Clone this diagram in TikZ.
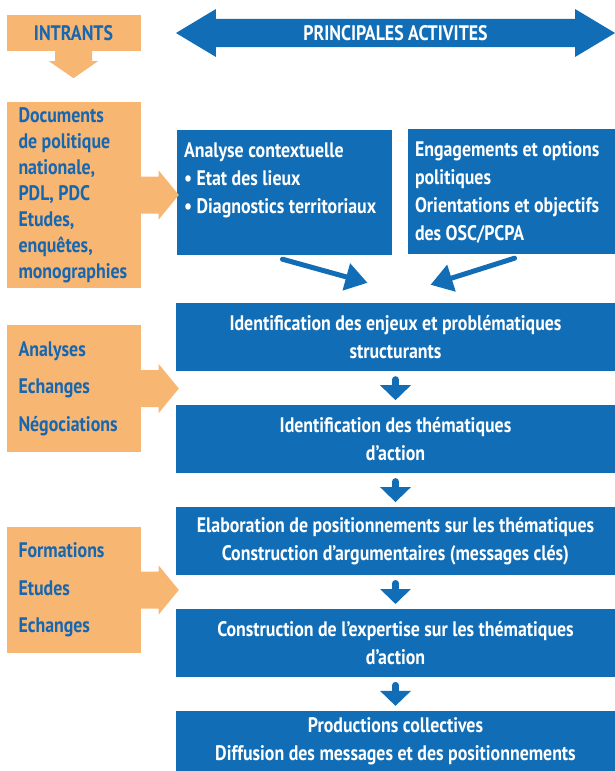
\documentclass[tikz,border=0pt]{standalone}
\usepackage{fontspec}
\setmainfont{PT Sans}[FakeStretch=0.85]
\usepackage{tikz}
\usetikzlibrary{shapes.arrows, arrows.meta, positioning, calc}
\definecolor{actblue}{RGB}{17,109,181}
\definecolor{inorange}{RGB}{248,182,115}
\definecolor{intext}{RGB}{22,102,176}
\frenchspacing
\tikzset{
    inbox/.style={rectangle, fill=inorange, text=intext, align=flush left, text width=110pt,
                  inner xsep=12pt, inner ysep=0pt, minimum width=134pt,
                  font=\bfseries\fontsize{21}{26}\selectfont},
    actbox/.style={rectangle, fill=actblue, text=white, align=center, inner sep=0pt,
                   minimum width=439pt, minimum height=68pt,
                   font=\bfseries\fontsize{21}{28}\selectfont},
    topbox/.style={rectangle, fill=actblue, text=white, inner xsep=7pt, inner ysep=7.5pt,
                   font=\bfseries\fontsize{21}{28}\selectfont},
    downarrow/.style={actblue, line width=7pt, line cap=round, shorten <=8.5pt, shorten >=4.5pt,
                      -{Triangle[width=30pt,length=15pt]}},
    diagarrow/.style={actblue, line width=5pt, line cap=round,
                      -{Triangle[width=27pt,length=22pt]}}
}

\begin{document}
\begin{tikzpicture}[x=1pt, y=1pt, node distance=33.5pt]
    \useasboundingbox (0,0) rectangle (615,-771);

    % Headers
    \node[inbox, align=center, minimum height=36pt] (intrants) at (73.5,-33) {INTRANTS};
    \node[double arrow, fill=actblue, text=white, inner sep=0pt,
          minimum height=439pt, minimum width=48pt,
          double arrow head extend=5.5pt, double arrow tip angle=62,
          font=\bfseries\fontsize{21}{26}\selectfont] (activites) at (395.5,-33) {PRINCIPALES ACTIVITES};

    % Intrants
    \node[inbox, minimum height=186pt] (docs) at (73.5,-195)
        {Documents\\de politique\\nationale,\\PDL, PDC\\Etudes,\\enquêtes,\\monographies};
    \node[inbox, minimum height=127pt, font=\bfseries\fontsize{21}{37.5}\selectfont] (analyses) at (73.5,-388.5)
        {Analyses\\Echanges\\Négociations};
    \node[inbox, minimum height=126pt, font=\bfseries\fontsize{21}{37.5}\selectfont] (formations) at (73.5,-590)
        {Formations\\Etudes\\Echanges};

    % Top activity boxes
    \node[topbox] (analyse) at (284.5,-192.5)
        {\parbox[c][110pt][t]{201pt}{\raggedright\strut Analyse contextuelle\\• Etat des lieux\\• Diagnostics territoriaux}};
    \node[topbox] (engage) at (511.5,-191.5)
        {\parbox[c][110pt][t]{193pt}{\raggedright\strut Engagements et options\\politiques\\Orientations et objectifs\\des OSC/PCPA}};

    % Activity chain
    \node[actbox] (enjeux) at (395.5,-337) {Identification des enjeux et problématiques\\structurants};
    \node[actbox, below=of enjeux] (thema) {Identification des thématiques\\d’action};
    \node[actbox, below=of thema] (elabo) {Elaboration de positionnements sur les thématiques\\Construction d’argumentaires (messages clés)};
    \node[actbox, below=of elabo] (expert) {Construction de l’expertise sur les thématiques\\d’action};
    \node[actbox, below=of expert, minimum height=62pt] (prod) {Productions collectives\\Diffusion des messages et des positionnements};

    % Orange arrows
    \fill[inorange] ($(intrants.south)+(-18.5,0)$) -- ++(0,-10) -- ++(-6,0) -- ++(24.5,-17)
        -- ++(24.5,17) -- ++(-6,0) -- ++(0,10) -- cycle;
    \foreach \src in {docs, analyses, formations} {
        \fill[inorange] ($(\src.east)+(0,18.5)$) -- ++(18,0) -- ++(0,6)
            -- ($(\src.east -| enjeux.west)+(3,0)$)
            -- ($(\src.east)+(18,-24.5)$) -- ++(0,6) -- ($(\src.east)+(0,-18.5)$) -- cycle;
    }

    % Blue arrows
    \draw[diagarrow] ([xshift=-2pt,yshift=-4pt]analyse.south) -- ([xshift=-28pt,yshift=20pt]enjeux.north);
    \draw[diagarrow] ([xshift=3pt,yshift=-4pt]engage.south) -- ([xshift=35pt,yshift=18pt]enjeux.north);
    \foreach \a/\b in {enjeux/thema, thema/elabo, elabo/expert, expert/prod}
        \draw[downarrow] (\a) -- (\b);
\end{tikzpicture}
\end{document}
